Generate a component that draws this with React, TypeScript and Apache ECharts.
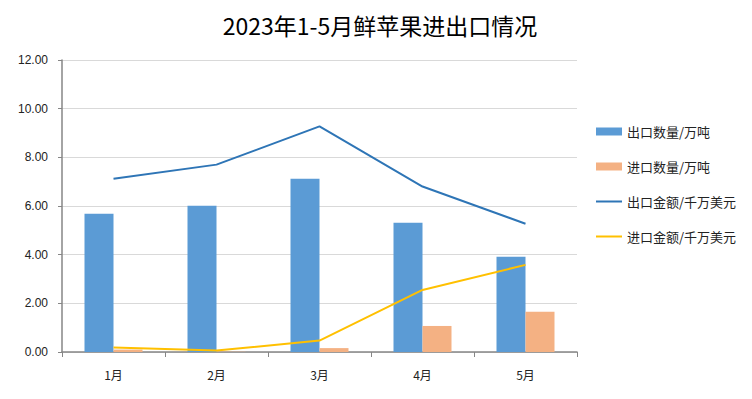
import React, { useEffect, useRef } from "react";
import * as echarts from "echarts";

const categories = ["1月", "2月", "3月", "4月", "5月"];
const exportQty = [5.68, 6.01, 7.12, 5.31, 3.91];
const importQty = [0.1, 0.01, 0.16, 1.07, 1.65];
const exportValue = [7.12, 7.7, 9.27, 6.8, 5.27];
const importValue = [0.18, 0.06, 0.47, 2.55, 3.58];
const seriesNames = ["出口数量/万吨", "进口数量/万吨", "出口金额/千万美元", "进口金额/千万美元"];

const FONT = "'Noto Sans CJK SC', 'Liberation Sans', sans-serif";

export default function App() {
  const ref = useRef<HTMLDivElement>(null);
  useEffect(() => {
    const chart = echarts.init(ref.current!, null, { renderer: "svg" });
    chart.setOption({
      animation: false,
      backgroundColor: "#fff",
      textStyle: { fontFamily: FONT },
      title: {
        text: "2023年1-5月鲜苹果进出口情况",
        left: 375,
        textAlign: "center",
        top: 8,
        textStyle: { fontSize: 23, fontWeight: "normal", color: "#000", fontFamily: FONT },
      },
      legend: {
        orient: "vertical",
        left: 590,
        top: 120,
        itemGap: 22,
        itemWidth: 26,
        itemHeight: 8,
        textStyle: { fontSize: 13, color: "#222", fontFamily: FONT },
        data: [
          { name: seriesNames[0], icon: "rect" },
          { name: seriesNames[1], icon: "rect" },
          { name: seriesNames[2], itemStyle: { opacity: 0 } },
          { name: seriesNames[3], itemStyle: { opacity: 0 } },
        ],
      },
      grid: { left: 62, right: 175, top: 60, bottom: 47 },
      xAxis: {
        type: "category",
        data: categories,
        boundaryGap: true,
        axisLine: { lineStyle: { color: "#868686", width: 1.5 } },
        axisTick: { show: true, length: 5, lineStyle: { color: "#868686" } },
        axisLabel: { color: "#222", fontSize: 12, margin: 16, fontFamily: FONT },
      },
      yAxis: {
        type: "value",
        min: 0,
        max: 12,
        interval: 2,
        axisLine: { show: true, lineStyle: { color: "#868686", width: 1.5 } },
        axisTick: { show: true, length: 4, lineStyle: { color: "#868686" } },
        axisLabel: {
          color: "#222",
          fontSize: 12,
          margin: 14,
          fontFamily: "'Liberation Sans', sans-serif",
          formatter: (v: number) => v.toFixed(2),
        },
        splitLine: { lineStyle: { color: "#d9d9d9", width: 1 } },
      },
      series: [
        {
          name: seriesNames[0],
          type: "bar",
          data: exportQty,
          barWidth: 29,
          barGap: "0%",
          itemStyle: { color: "#5b9bd5" },
        },
        {
          name: seriesNames[1],
          type: "bar",
          data: importQty,
          barWidth: 29,
          barGap: "0%",
          itemStyle: { color: "#f4b183" },
        },
        {
          name: seriesNames[2],
          type: "line",
          data: exportValue,
          symbol: "none",
          lineStyle: { color: "#2e75b6", width: 2 },
          itemStyle: { color: "#2e75b6" },
        },
        {
          name: seriesNames[3],
          type: "line",
          data: importValue,
          symbol: "none",
          lineStyle: { color: "#ffc000", width: 2 },
          itemStyle: { color: "#ffc000" },
        },
      ],
    });
    return () => chart.dispose();
  }, []);
  return <div ref={ref} style={{ width: 752, height: 399, margin: -8 }} />;
}
